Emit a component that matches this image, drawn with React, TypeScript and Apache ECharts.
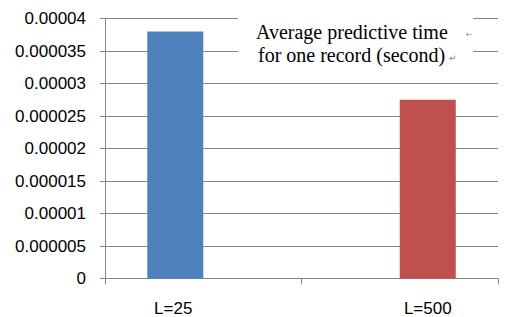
import React, { useEffect, useRef } from "react";
import * as echarts from "echarts";

const categories = ["L=25", "L=500"];
const seriesNames = ["L=25", "L=500"];
const seriesA = [0.000038, null];
const seriesB = [null, 0.0000275];
const barColors = ["#4F81BD", "#C0504D"];
const noteLines = ["Average predictive time", "for one record (second)"];

export default function App() {
  const ref = useRef<HTMLDivElement>(null);
  useEffect(() => {
    if (!ref.current) return;
    const chart = echarts.init(ref.current, undefined, { renderer: "svg" });
    chart.setOption({
      animation: false,
      backgroundColor: "#ffffff",
      grid: { left: 105, right: 8, top: 18.5, bottom: 38.5, containLabel: false },
      xAxis: {
        type: "category",
        data: categories,
        boundaryGap: true,
        axisLine: { show: true, lineStyle: { color: "#868686", width: 1 } },
        axisTick: { show: true, alignWithLabel: false, length: 6, lineStyle: { color: "#868686" } },
        axisLabel: {
          color: "#000",
          fontFamily: "Liberation Sans",
          fontSize: 17,
          margin: 21,
          formatter: (v: string, i: number) => (i === 0 ? `{l|${v}}` : `{r|${v}}`),
          rich: {
            l: { fontFamily: "Liberation Sans", fontSize: 17, color: "#000", padding: [0, 60, 0, 0] },
            r: { fontFamily: "Liberation Sans", fontSize: 17, color: "#000", padding: [0, 0, 0, 56] },
          },
        },
        splitLine: { show: false },
      },
      yAxis: {
        type: "value",
        min: 0,
        max: 0.00004,
        interval: 0.000005,
        axisLine: { show: true, lineStyle: { color: "#868686", width: 1 } },
        axisTick: { show: true, length: 5, lineStyle: { color: "#868686" } },
        axisLabel: {
          color: "#000",
          fontFamily: "Liberation Sans",
          fontSize: 17,
          margin: 19,
          formatter: (v: number) => v.toFixed(7).replace(/0+$/, "").replace(/\.$/, ""),
        },
        splitLine: { show: true, lineStyle: { color: "#868686", width: 1 } },
      },
      series: [
        {
          name: seriesNames[0],
          type: "bar",
          barWidth: 56,
          barGap: "0%",
          itemStyle: { color: barColors[0] },
          data: seriesA,
        },
        {
          name: seriesNames[1],
          type: "bar",
          barWidth: 56,
          barGap: "0%",
          itemStyle: { color: barColors[1] },
          data: seriesB,
        },
      ],
      graphic: [
        {
          type: "rect",
          shape: { x: 238, y: 8, width: 235, height: 64 },
          style: { fill: "#ffffff" },
          z: 100,
        },
        {
          type: "text",
          x: 256,
          y: 32,
          z: 101,
          style: {
            text: noteLines[0],
            fill: "#000",
            font: "20px 'Liberation Serif'",
            verticalAlign: "middle",
          },
        },
        {
          type: "text",
          x: 258,
          y: 55,
          z: 101,
          style: {
            text: noteLines[1],
            fill: "#000",
            font: "20px 'Liberation Serif'",
            verticalAlign: "middle",
          },
        },
        {
          type: "text",
          x: 466,
          y: 34,
          z: 101,
          style: { text: "←", fill: "#888", font: "8px 'DejaVu Sans'", verticalAlign: "middle" },
        },
        {
          type: "text",
          x: 449,
          y: 58,
          z: 101,
          style: { text: "↵", fill: "#888", font: "9px 'DejaVu Sans'", verticalAlign: "middle" },
        },
      ],
    });
    return () => chart.dispose();
  }, []);
  return <div ref={ref} style={{ width: 506, height: 317, position: "absolute", left: 0, top: 0 }} />;
}
